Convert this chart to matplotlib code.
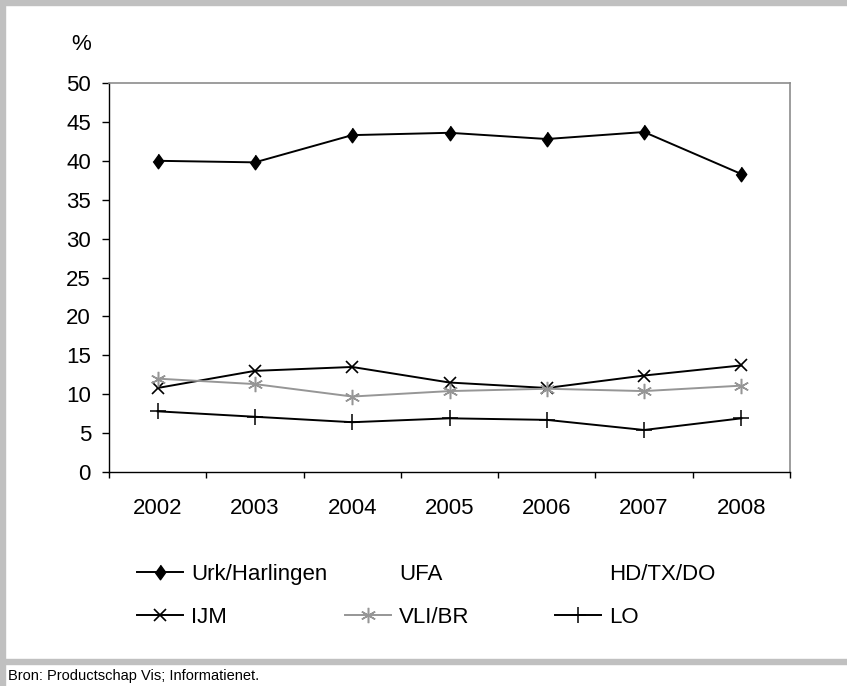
import matplotlib
matplotlib.use("Agg")
import matplotlib.pyplot as plt
from matplotlib.patches import Rectangle

# data (percentages per year)
years = ["2002", "2003", "2004", "2005", "2006", "2007", "2008"]
urk = [40.0, 39.8, 43.3, 43.6, 42.8, 43.7, 38.3]
ijm = [10.8, 13.0, 13.5, 11.5, 10.8, 12.4, 13.7]
vli = [12.0, 11.3, 9.7, 10.4, 10.7, 10.4, 11.1]
lo = [7.8, 7.1, 6.4, 6.9, 6.7, 5.4, 6.9]
ufa = []
hd = []

W, H = 847, 686
plt.rcParams['font.family'] = ['Liberation Sans', 'DejaVu Sans']

fig = plt.figure(figsize=(W / 100, H / 100), dpi=100)

# grey frame bands like the original report layout
grey = '#c0c0c0'
fig.patches.append(Rectangle((0, 1 - 5 / H), 1, 5 / H, transform=fig.transFigure, color=grey, zorder=0))
fig.patches.append(Rectangle((0, 0), 5 / W, 1, transform=fig.transFigure, color=grey, zorder=0))
fig.patches.append(Rectangle((0, 1 - 664 / H), 1, 5 / H, transform=fig.transFigure, color=grey, zorder=0))

left, right, top, bottom = 109, 790, 83, 472
ax = fig.add_axes([left / W, 1 - bottom / H, (right - left) / W, (bottom - top) / H])

x = list(range(len(years)))
diamond = [(0, 1), (0.72, 0), (0, -1), (-0.72, 0)]
l_urk, = ax.plot(x, urk, color='black', lw=1.4, marker=diamond, ms=10.5, label='Urk/Harlingen')
l_ijm, = ax.plot(x, ijm, color='black', lw=1.4, marker='x', ms=8.5, mew=1.2, label='IJM')
l_vli, = ax.plot(x, vli, color='#969696', lw=1.4, marker=(6, 2, 0), ms=11, mew=1.1, label='VLI/BR')
l_lo, = ax.plot(x, lo, color='black', lw=1.4, marker='+', ms=11, mew=1.1, label='LO')
l_ufa, = ax.plot(ufa, ufa, color='none', label='UFA')
l_hd, = ax.plot(hd, hd, color='none', label='HD/TX/DO')

ax.set_xlim(-0.5, len(years) - 0.5)
ax.set_ylim(0, 50)
ax.set_yticks(range(0, 51, 5))
ax.set_xticks([i - 0.5 for i in range(len(years) + 1)])
ax.set_xticklabels([])
ax.set_xticks(x, minor=True)
ax.set_xticklabels(years, minor=True)
ax.tick_params(axis='x', which='major', direction='out', length=4.3, width=1)
ax.tick_params(axis='x', which='minor', length=0, pad=19, labelsize=16)
ax.tick_params(axis='y', direction='out', length=5, width=1, pad=8, labelsize=16)

for s in ['top', 'right']:
    ax.spines[s].set_color('#8c8c8c')
    ax.spines[s].set_linewidth(1.2)
for s in ['left', 'bottom']:
    ax.spines[s].set_color('black')
    ax.spines[s].set_linewidth(1)

fig.text(81 / W, 1 - 45 / H, '%', fontsize=16, ha='center', va='center')

# legend: three equal-width columns, two rows each
cols = [(137, [l_urk, l_ijm]), (345, [l_ufa, l_vli]), (555, [l_hd, l_lo])]
for xpos, handles in cols:
    fig.legend(handles=handles, loc='upper left', bbox_to_anchor=(xpos / W, 1 - 564 / H),
               bbox_transform=fig.transFigure, frameon=False, fontsize=16,
               handlelength=2.07, handletextpad=0.36, labelspacing=1.0,
               borderpad=0, borderaxespad=0)

fig.text(8 / W, 1 - 676 / H, 'Bron: Productschap Vis; Informatienet.', fontsize=10.5,
         ha='left', va='center')

fig.savefig('out.png', dpi=100)
